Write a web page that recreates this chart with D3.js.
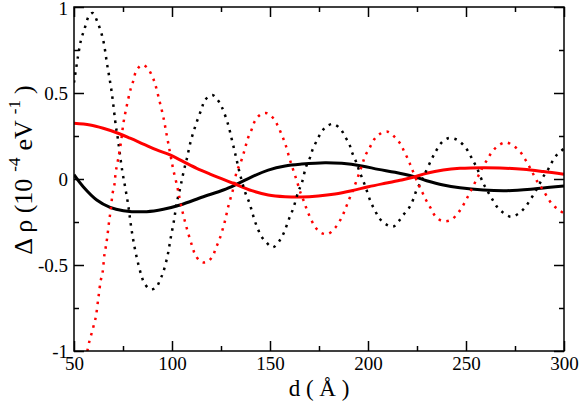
<!DOCTYPE html>
<html>
<head>
<meta charset="utf-8">
<script src="https://cdn.jsdelivr.net/npm/d3@7"></script>
<style>
  body { margin: 0; background: #fff; }
</style>
</head>
<body>
<div id="chart"></div>
<script>
// data: [d (Angstrom), delta rho (1e-4 eV^-1)]
const BLACK_SOLID = [[50,0.025],[54.7,-0.045],[61.6,-0.122],[68.4,-0.165],[75.2,-0.184],[87.1,-0.19],
  [95.6,-0.176],[104.1,-0.151],[116,-0.103],[126.2,-0.064],[133,-0.03],[140.7,0.013],[149.1,0.052],
  [157.7,0.076],[166.2,0.087],[178.1,0.095],[186.6,0.091],[196.8,0.076],[205.3,0.056],[213.8,0.039],
  [223.1,0.015],[229.9,-0.01],[238.4,-0.035],[246.9,-0.051],[258.8,-0.064],[270.8,-0.068],
  [284.3,-0.058],[292.9,-0.048],[300,-0.041]];

const RED_SOLID = [[50,0.324],[58.2,0.314],[64.9,0.295],[71.8,0.269],[78.6,0.237],[85.4,0.203],
  [92.2,0.169],[99,0.14],[105.8,0.101],[112.6,0.062],[119.4,0.029],[126.2,-0.002],[132.1,-0.029],
  [140.7,-0.068],[149.1,-0.093],[157.7,-0.103],[166.2,-0.105],[174.6,-0.099],[183.2,-0.087],
  [191.7,-0.068],[200.2,-0.045],[208.7,-0.025],[217.2,-0.006],[223.1,0.01],[229.9,0.033],
  [238.4,0.052],[246.9,0.062],[258.8,0.066],[267.3,0.064],[279.2,0.056],[289.4,0.043],[300,0.027]];

const BLACK_DOTTED = [[50,0.56],[52,0.71],[53.6,0.81],[55.3,0.87],[57.7,0.95],[59.5,0.965],
  [62.1,0.909],[64.8,0.812],[67,0.659],[69.2,0.508],[71.4,0.304],[72.1,0.256],[74.6,0.048],
  [76.2,-0.054],[77.7,-0.155],[78.9,-0.258],[80.3,-0.359],[82.1,-0.461],[84.3,-0.558],[85.9,-0.606],
  [88.9,-0.641],[91.8,-0.632],[93.9,-0.587],[95.6,-0.539],[97.8,-0.442],[99.3,-0.345],[101,-0.242],
  [102.4,-0.141],[104.4,-0.041],[106.1,0.052],[107.5,0.114],[109.5,0.217],[112.1,0.314],
  [115.2,0.411],[116.8,0.459],[120.6,0.488],[123.6,0.455],[125.7,0.411],[128.7,0.314],[130.3,0.24],
  [131.8,0.169],[133,0.11],[134.2,0.05],[135.6,-0.01],[137.5,-0.083],[139.4,-0.136],[140.7,-0.184],
  [142,-0.235],[143.5,-0.281],[145.4,-0.33],[147.8,-0.364],[151.4,-0.397],[155.1,-0.355],
  [157.1,-0.312],[159.8,-0.229],[161.9,-0.17],[164.4,-0.074],[166.2,-0.025],[168.4,0.072],
  [170.4,0.124],[171.8,0.173],[173.8,0.221],[175.9,0.266],[178.6,0.304],[182.3,0.32],[186.1,0.289],
  [188.3,0.246],[190.5,0.202],[191.7,0.159],[193.7,0.106],[195.4,0.052],[198.5,-0.039],
  [201.5,-0.136],[203.6,-0.184],[205.8,-0.229],[209,-0.262],[212.9,-0.277],[215.5,-0.248],
  [218,-0.209],[221.1,-0.165],[223.1,-0.118],[224.8,-0.064],[226.9,-0.021],[228.7,0.023],
  [232.5,0.116],[234.7,0.163],[237.2,0.207],[240.9,0.237],[244.9,0.231],[248.3,0.202],[251.2,0.159],
  [253.4,0.11],[255.5,0.066],[258.8,-0.025],[261,-0.07],[263.3,-0.116],[265.8,-0.161],[269,-0.196],
  [272.8,-0.219],[277,-0.2],[280.1,-0.165],[282.7,-0.122],[285.2,-0.077],[287.4,-0.031],
  [289.4,0.013],[292,0.058],[294,0.101],[296.6,0.144],[300,0.176]];

const RED_DOTTED = [[56.8,-1.0],[57.8,-0.946],[59,-0.897],[60.2,-0.845],[61.2,-0.797],[62.4,-0.694],
  [63.6,-0.593],[64.6,-0.542],[65.5,-0.442],[66.3,-0.39],[67,-0.335],[68,-0.238],[68.7,-0.184],
  [69.7,-0.083],[70.6,-0.035],[71.3,0.04],[72.6,0.12],[74,0.217],[75.2,0.324],[76.9,0.424],
  [78.9,0.523],[80.3,0.572],[81.6,0.624],[84.5,0.663],[87.4,0.647],[89.6,0.605],[91.3,0.556],
  [93.5,0.459],[95.6,0.359],[97.3,0.256],[99,0.153],[100.7,0.052],[102.7,-0.045],[103.6,-0.097],
  [105.5,-0.196],[107.8,-0.297],[110.4,-0.394],[111.9,-0.442],[114.8,-0.481],[117.7,-0.484],
  [120.8,-0.448],[122.3,-0.403],[124.1,-0.355],[126.7,-0.258],[128.9,-0.151],[131.3,-0.054],
  [133,0.042],[135,0.095],[136.4,0.144],[137.6,0.192],[138.9,0.242],[140.7,0.289],[142.3,0.337],
  [145.3,0.376],[148.6,0.382],[152,0.349],[154.2,0.304],[156,0.256],[157.7,0.208],[160.2,0.11],
  [163.1,0.01],[165.8,-0.087],[167.5,-0.136],[169,-0.184],[170.9,-0.233],[172.9,-0.277],
  [175.9,-0.312],[179.4,-0.32],[182.7,-0.291],[185.4,-0.248],[187.4,-0.203],[189.1,-0.155],
  [190.8,-0.106],[192.5,-0.06],[197.1,0.085],[198.5,0.134],[200.7,0.178],[203.2,0.231],
  [206.1,0.262],[210,0.275],[213.8,0.242],[216.5,0.205],[218.5,0.159],[220.6,0.11],[222.3,0.062],
  [225.7,-0.031],[227.7,-0.077],[229.6,-0.122],[232,-0.17],[234.5,-0.219],[237.9,-0.244],
  [242.3,-0.238],[245.6,-0.203],[248.1,-0.161],[250.3,-0.116],[252.4,-0.07],[254.4,-0.025],
  [256.5,0.023],[258.5,0.068],[260.9,0.114],[263.1,0.155],[266.2,0.192],[270.3,0.213],[274.1,0.194],
  [277.6,0.159],[280.1,0.116],[282.3,0.072],[284.3,0.029],[286.6,-0.019],[289.1,-0.06],
  [291.5,-0.106],[294,-0.147],[297.4,-0.18],[300,-0.2]];

const X_MAJOR = [50, 100, 150, 200, 250, 300];
const X_MINOR = [75, 125, 175, 225, 275];
const Y_MAJOR = [-1, -0.5, 0, 0.5, 1];
const Y_MINOR = [-0.75, -0.25, 0.25, 0.75];

const SERIF = "'Times New Roman', Times, 'Liberation Serif', 'DejaVu Serif', serif";

// frame setup
const FRAME_WIDTH = 581;
const FRAME_HEIGHT = 404;
const MARGINS = {left: 74, right: 17, top: 7, bottom: 53};
const VIS_WIDTH = FRAME_WIDTH - MARGINS.left - MARGINS.right;
const VIS_HEIGHT = FRAME_HEIGHT - MARGINS.top - MARGINS.bottom;

const FRAME = d3.select("#chart")
                .append("svg")
                  .attr("width", FRAME_WIDTH)
                  .attr("height", FRAME_HEIGHT)
                  .style("font-family", SERIF);

const X_SCALE = d3.scaleLinear().domain([50, 300]).range([0, VIS_WIDTH]);
const Y_SCALE = d3.scaleLinear().domain([-1, 1]).range([VIS_HEIGHT, 0]);

const PLOT = FRAME.append("g")
                  .attr("transform", "translate(" + MARGINS.left + "," + MARGINS.top + ")");

PLOT.append("clipPath").attr("id", "clip")
    .append("rect").attr("width", VIS_WIDTH).attr("height", VIS_HEIGHT);

// the curves
const line = d3.line()
               .x((d) => X_SCALE(d[0]))
               .y((d) => Y_SCALE(d[1]))
               .curve(d3.curveCatmullRom);

const curves = PLOT.append("g").attr("clip-path", "url(#clip)");

function drawCurve(data, color, dotted) {
    const p = curves.append("path")
        .datum(data)
        .attr("d", line)
        .attr("fill", "none")
        .attr("stroke", color);
    if (dotted) {
        p.attr("stroke-width", 2.5).attr("stroke-dasharray", "2.5,5.5");
    } else {
        p.attr("stroke-width", 3);
    }
}
drawCurve(BLACK_SOLID, "#000", false);
drawCurve(RED_SOLID, "#ff0000", false);
drawCurve(BLACK_DOTTED, "#000", true);
drawCurve(RED_DOTTED, "#ff0000", true);

// axes, ticks pointing inward on every side
function styleAxis(g) {
    g.attr("font-family", null).attr("font-size", 19);
    g.select(".domain").remove();
    g.selectAll("line").attr("stroke", "#000").attr("stroke-width", 1.5);
    g.selectAll("text").attr("fill", "#000").style("font-family", SERIF);
}

PLOT.append("g")
    .attr("transform", "translate(0," + VIS_HEIGHT + ")")
    .call(d3.axisBottom(X_SCALE).tickValues(X_MAJOR).tickSize(-10).tickPadding(6)
            .tickFormat(d3.format("d")))
    .call(styleAxis);
PLOT.append("g")
    .attr("transform", "translate(0," + VIS_HEIGHT + ")")
    .call(d3.axisBottom(X_SCALE).tickValues(X_MINOR).tickSize(-5).tickFormat(""))
    .call(styleAxis);
PLOT.append("g")
    .call(d3.axisTop(X_SCALE).tickValues(X_MAJOR).tickSize(-10).tickFormat(""))
    .call(styleAxis);
PLOT.append("g")
    .call(d3.axisTop(X_SCALE).tickValues(X_MINOR).tickSize(-5).tickFormat(""))
    .call(styleAxis);

PLOT.append("g")
    .call(d3.axisLeft(Y_SCALE).tickValues(Y_MAJOR).tickSize(-10).tickPadding(6)
            .tickFormat((d) => String(d)))
    .call(styleAxis)
    // keep the top label "1" just inside the picture
    .selectAll(".tick text")
      .filter((d) => d === 1)
      .attr("dy", "0.42em");
PLOT.append("g")
    .call(d3.axisLeft(Y_SCALE).tickValues(Y_MINOR).tickSize(-5).tickFormat(""))
    .call(styleAxis);
PLOT.append("g")
    .attr("transform", "translate(" + VIS_WIDTH + ",0)")
    .call(d3.axisRight(Y_SCALE).tickValues(Y_MAJOR).tickSize(-10).tickFormat(""))
    .call(styleAxis);
PLOT.append("g")
    .attr("transform", "translate(" + VIS_WIDTH + ",0)")
    .call(d3.axisRight(Y_SCALE).tickValues(Y_MINOR).tickSize(-5).tickFormat(""))
    .call(styleAxis);

// frame
PLOT.append("rect")
    .attr("width", VIS_WIDTH)
    .attr("height", VIS_HEIGHT)
    .attr("fill", "none")
    .attr("stroke", "#000")
    .attr("stroke-width", 1.5);

// axis titles
FRAME.append("text")
    .attr("x", MARGINS.left + VIS_WIDTH / 2)
    .attr("y", 396)
    .attr("text-anchor", "middle")
    .attr("font-size", 23)
    .style("font-family", SERIF)
    .text("d ( \u00C5 )");

const yTitle = FRAME.append("text")
    .attr("transform", "translate(32,170) rotate(-90)")
    .attr("text-anchor", "middle")
    .attr("font-size", 26)
    .style("font-family", SERIF);
yTitle.append("tspan").text("\u0394 \u03C1  (10");
yTitle.append("tspan").attr("dx", 7).attr("dy", -12).attr("font-size", 17).text("-4");
yTitle.append("tspan").attr("dx", 7).attr("dy", 12).text("eV");
yTitle.append("tspan").attr("dx", 6).attr("dy", -12).attr("font-size", 17).text("-1");
yTitle.append("tspan").attr("dx", 6).attr("dy", 12).text(")");
</script>
</body>
</html>
